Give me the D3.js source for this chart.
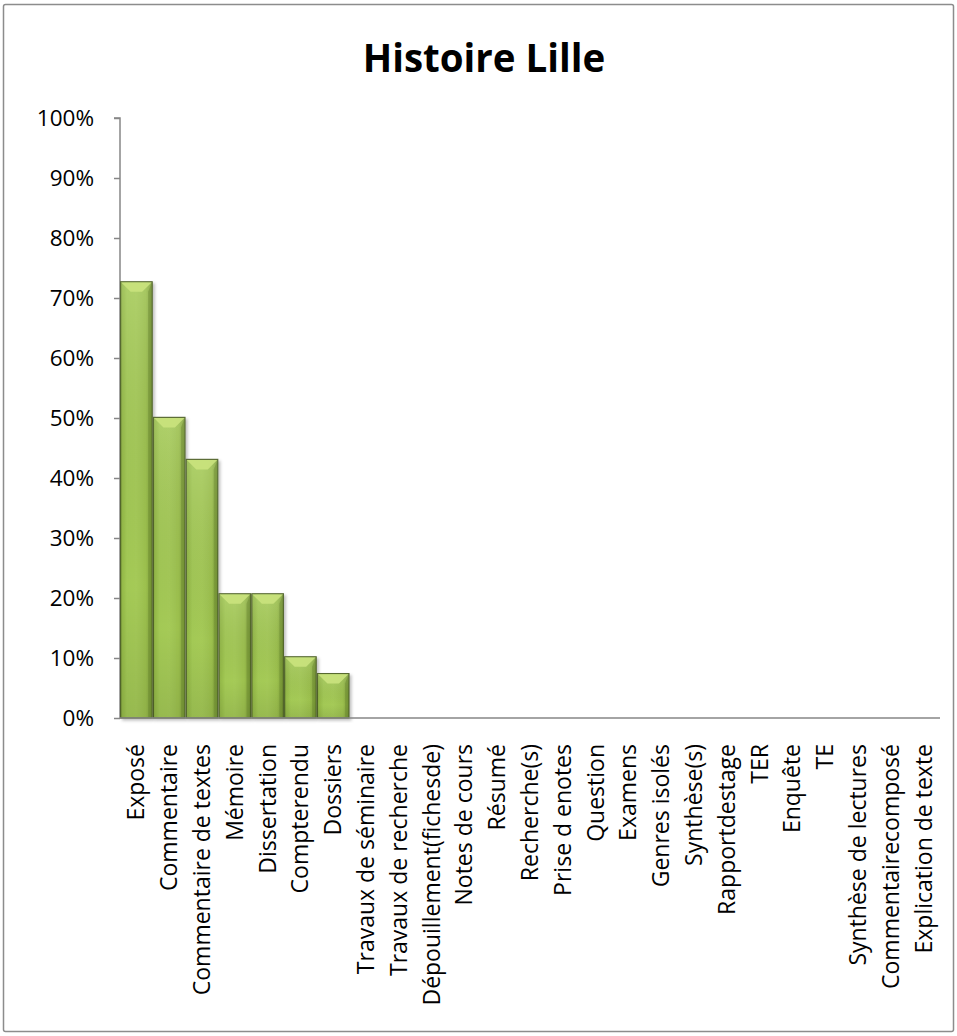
<!DOCTYPE html>
<html><head><meta charset="utf-8">
<script src="https://cdn.jsdelivr.net/npm/d3@7"></script>
<style>body{margin:0;background:#fff}svg{display:block}</style>
</head><body>
<script>
const categories = ["Exposé","Commentaire","Commentaire de textes","Mémoire","Dissertation","Compterendu","Dossiers","Travaux de séminaire","Travaux de recherche","Dépouillement(fichesde)","Notes de cours","Résumé","Recherche(s)","Prise d enotes","Question","Examens","Genres isolés","Synthèse(s)","Rapportdestage","TER","Enquête","TE","Synthèse de lectures","Commentairecomposé","Explication de texte"];
const values = [0.727,0.501,0.431,0.207,0.207,0.102,0.074,0,0,0,0,0,0,0,0,0,0,0,0,0,0,0,0,0,0];
const yTicks = [0,0.1,0.2,0.3,0.4,0.5,0.6,0.7,0.8,0.9,1.0];
const title = "Histoire Lille";
</script>
<script>
const W=957,H=1036;
const svg=d3.select("body").append("svg").attr("width",W).attr("height",H);
const defs=svg.append("defs");
const g1=defs.append("linearGradient").attr("id","barg").attr("x1","0").attr("x2","1").attr("y1","0").attr("y2","0");
g1.append("stop").attr("offset","0").attr("stop-color","#8fb444");
g1.append("stop").attr("offset","0.2").attr("stop-color","#a3c955");
g1.append("stop").attr("offset","0.5").attr("stop-color","#a5ca58");
g1.append("stop").attr("offset","0.8").attr("stop-color","#9cc04e");
g1.append("stop").attr("offset","1").attr("stop-color","#7d9e38");
const g2=defs.append("linearGradient").attr("id","barv").attr("x1","0").attr("x2","0").attr("y1","0").attr("y2","1");
g2.append("stop").attr("offset","0").attr("stop-color","#ffffff").attr("stop-opacity",0.12);
g2.append("stop").attr("offset","0.7").attr("stop-color","#000").attr("stop-opacity",0);
g2.append("stop").attr("offset","1").attr("stop-color","#000").attr("stop-opacity",0.08);
const f=defs.append("filter").attr("id","sh").attr("x","-20%").attr("y","-5%").attr("width","150%").attr("height","115%");
f.append("feDropShadow").attr("dx",2).attr("dy",2).attr("stdDeviation",1.5).attr("flood-color","#000").attr("flood-opacity",0.25);

svg.append("rect").attr("x",3.5).attr("y",4.5).attr("width",950).attr("height",1027).attr("rx",2).attr("fill","#fff").attr("stroke","#8c8c8c").attr("stroke-width",1.5);

svg.append("text").attr("x",484).attr("y",72).attr("text-anchor","middle")
 .attr("font-family","'Open Sans',sans-serif").attr("font-weight","bold").attr("font-size",38.5).text(title);

const x0=120,x1=940,yB=718,yT=118;
const x=d3.scaleBand().domain(categories).range([x0,x1]).paddingInner(0.04).paddingOuter(0.02);
const y=d3.scaleLinear().domain([0,1]).range([yB,yT]);

const yAxis=d3.axisLeft(y).tickValues(yTicks).tickFormat(d3.format(".0%")).tickSize(6).tickPadding(20);
const ga=svg.append("g").attr("transform",`translate(${x0},0)`).call(yAxis);
ga.select(".domain").attr("stroke","#868686").attr("stroke-width",1.5).attr("d",`M-6,${yT}H0V${yB}`);
ga.selectAll(".tick line").attr("stroke","#868686").attr("stroke-width",1.5);
ga.selectAll(".tick text").attr("font-family","'Open Sans',sans-serif").attr("font-size",22.5).attr("fill","#000");

const bars=svg.append("g");
const data=categories.map((c,i)=>({c,v:values[i]})).filter(d=>d.v>0);
const bw=x.bandwidth();
bars.selectAll("rect.b").data(data).enter().append("rect").attr("class","b")
 .attr("x",d=>x(d.c)).attr("y",d=>y(d.v)).attr("width",bw).attr("height",d=>yB-y(d.v))
 .attr("fill","url(#barg)").attr("stroke","#4f6228").attr("stroke-width",1.2).attr("filter","url(#sh)");
bars.selectAll("rect.ov").data(data).enter().append("rect").attr("class","ov")
 .attr("x",d=>x(d.c)).attr("y",d=>y(d.v)).attr("width",bw).attr("height",d=>yB-y(d.v))
 .attr("fill","url(#barv)");
const bev=10;
bars.selectAll("path.bev").data(data).enter().append("path").attr("class","bev")
 .attr("d",d=>{const a=x(d.c),t=y(d.v);return `M${a+0.6},${t+0.6}L${a+bw-0.6},${t+0.6}L${a+bw-bev},${t+bev}L${a+bev},${t+bev}Z`;})
 .attr("fill","#c8e27c").attr("opacity",0.95);
bars.selectAll("path.bevr").data(data).enter().append("path").attr("class","bevr")
 .attr("d",d=>{const a=x(d.c),t=y(d.v);return `M${a+bw},${t}L${a+bw-4},${t+bev}L${a+bw-4},${yB}L${a+bw},${yB}Z`;})
 .attr("fill","#5f7b28").attr("opacity",0.35);

const xAxis=d3.axisBottom(x).tickSize(0).tickFormat(d=>d);
const gx=svg.append("g").attr("transform",`translate(0,${yB})`).call(xAxis);
gx.select(".domain").attr("stroke","#868686").attr("stroke-width",1.5).attr("d",`M${x0},0H${x1}`);
gx.selectAll(".tick text").attr("font-family","'Open Sans',sans-serif").attr("font-size",23).attr("fill","#000")
 .attr("text-anchor","end").attr("transform","translate(0,26) rotate(-90)").attr("dy","0.35em").attr("y",0).attr("x",0);
</script>
</body></html>
